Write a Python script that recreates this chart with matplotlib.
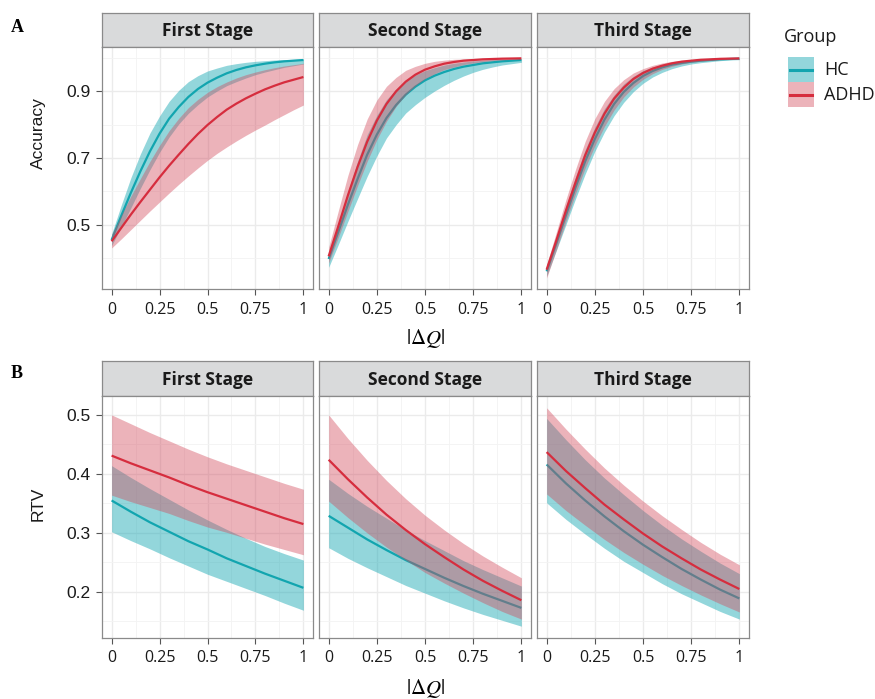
import matplotlib
matplotlib.use('Agg')
import matplotlib.pyplot as plt
from matplotlib.patches import Rectangle
from matplotlib.lines import Line2D

# ---------------- data ----------------
dq_a = [0.0, 0.05, 0.1, 0.15, 0.2, 0.25, 0.3, 0.35, 0.4, 0.45, 0.5,
        0.55, 0.6, 0.65, 0.7, 0.75, 0.8, 0.85, 0.9, 0.95, 1.0]
dq_b = [0.0, 0.1, 0.2, 0.3, 0.4, 0.5, 0.6, 0.7, 0.8, 0.9, 1.0]
stages = ["First Stage", "Second Stage", "Third Stage"]
groups = ["HC", "ADHD"]

# Accuracy (row A), at dq_a
acc1_hc = [0.454, 0.526, 0.595, 0.660, 0.720, 0.773, 0.818, 0.853, 0.883, 0.907, 0.926,
           0.941, 0.954, 0.964, 0.972, 0.978, 0.983, 0.987, 0.990, 0.992, 0.994]
acc1_hc_hi = [0.472, 0.558, 0.640, 0.712, 0.775, 0.826, 0.870, 0.903, 0.929, 0.947, 0.961,
              0.970, 0.978, 0.983, 0.987, 0.990, 0.992, 0.994, 0.995, 0.996, 0.997]
acc1_hc_lo = [0.437, 0.493, 0.550, 0.609, 0.665, 0.717, 0.763, 0.802, 0.834, 0.860, 0.883,
              0.901, 0.917, 0.929, 0.940, 0.950, 0.958, 0.965, 0.972, 0.977, 0.982]
acc1_ad = [0.450, 0.490, 0.530, 0.568, 0.605, 0.642, 0.677, 0.710, 0.742, 0.772, 0.799,
           0.823, 0.845, 0.863, 0.879, 0.893, 0.906, 0.917, 0.927, 0.935, 0.943]
acc1_ad_hi = [0.470, 0.528, 0.585, 0.638, 0.690, 0.738, 0.782, 0.819, 0.851, 0.876, 0.897,
              0.914, 0.928, 0.940, 0.950, 0.958, 0.965, 0.971, 0.976, 0.980, 0.984]
acc1_ad_lo = [0.430, 0.457, 0.485, 0.513, 0.541, 0.568, 0.595, 0.621, 0.646, 0.670, 0.693,
              0.714, 0.733, 0.751, 0.768, 0.784, 0.799, 0.815, 0.830, 0.845, 0.859]

acc2_hc = [0.397, 0.478, 0.560, 0.637, 0.710, 0.770, 0.820, 0.859, 0.890, 0.914, 0.933,
           0.947, 0.958, 0.967, 0.974, 0.979, 0.984, 0.987, 0.990, 0.992, 0.994]
acc2_hc_hi = [0.415, 0.505, 0.600, 0.690, 0.770, 0.828, 0.875, 0.907, 0.932, 0.949, 0.962,
              0.971, 0.979, 0.984, 0.988, 0.991, 0.993, 0.995, 0.996, 0.9965, 0.997]
acc2_hc_lo = [0.372, 0.440, 0.510, 0.578, 0.645, 0.706, 0.760, 0.800, 0.835, 0.860, 0.882,
              0.901, 0.918, 0.933, 0.946, 0.957, 0.966, 0.973, 0.979, 0.983, 0.987]
acc2_ad = [0.405, 0.495, 0.588, 0.673, 0.749, 0.812, 0.862, 0.900, 0.929, 0.950, 0.965,
           0.975, 0.983, 0.988, 0.992, 0.994, 0.996, 0.997, 0.998, 0.9985, 0.999]
acc2_ad_hi = [0.432, 0.541, 0.648, 0.740, 0.817, 0.874, 0.915, 0.942, 0.963, 0.975, 0.984,
              0.990, 0.9935, 0.996, 0.997, 0.998, 0.9988, 0.9992, 0.9995, 0.9997, 0.9998]
acc2_ad_lo = [0.385, 0.461, 0.540, 0.617, 0.690, 0.755, 0.810, 0.855, 0.890, 0.917, 0.938,
              0.953, 0.965, 0.973, 0.980, 0.985, 0.989, 0.992, 0.994, 0.996, 0.997]

acc3_hc = [0.360, 0.443, 0.528, 0.612, 0.690, 0.757, 0.815, 0.862, 0.898, 0.925, 0.946,
           0.961, 0.972, 0.980, 0.985, 0.989, 0.992, 0.994, 0.996, 0.997, 0.998]
acc3_hc_hi = [0.375, 0.463, 0.555, 0.643, 0.725, 0.792, 0.848, 0.889, 0.922, 0.945, 0.962,
              0.973, 0.981, 0.987, 0.991, 0.993, 0.995, 0.996, 0.997, 0.9975, 0.998]
acc3_hc_lo = [0.345, 0.422, 0.500, 0.578, 0.652, 0.720, 0.778, 0.827, 0.867, 0.899, 0.924,
              0.943, 0.957, 0.968, 0.976, 0.982, 0.986, 0.989, 0.992, 0.994, 0.995]
acc3_ad = [0.365, 0.452, 0.542, 0.627, 0.708, 0.776, 0.833, 0.878, 0.911, 0.937, 0.955,
           0.968, 0.977, 0.984, 0.989, 0.992, 0.9947, 0.996, 0.9975, 0.9982, 0.9988]
acc3_ad_hi = [0.380, 0.477, 0.575, 0.666, 0.750, 0.818, 0.870, 0.908, 0.935, 0.955, 0.968,
              0.978, 0.985, 0.990, 0.993, 0.995, 0.997, 0.9975, 0.998, 0.9985, 0.999]
acc3_ad_lo = [0.340, 0.424, 0.510, 0.593, 0.670, 0.737, 0.795, 0.844, 0.883, 0.913, 0.936,
              0.953, 0.966, 0.975, 0.982, 0.987, 0.990, 0.993, 0.995, 0.996, 0.997]

# RTV (row B), at dq_b
rtv1_hc = [0.355, 0.336, 0.318, 0.302, 0.286, 0.272, 0.257, 0.244, 0.231, 0.219, 0.207]
rtv1_hc_hi = [0.414, 0.394, 0.375, 0.357, 0.339, 0.322, 0.306, 0.291, 0.277, 0.265, 0.254]
rtv1_hc_lo = [0.302, 0.287, 0.273, 0.258, 0.244, 0.230, 0.218, 0.206, 0.194, 0.181, 0.169]
rtv1_ad = [0.431, 0.418, 0.406, 0.394, 0.381, 0.369, 0.358, 0.347, 0.336, 0.325, 0.315]
rtv1_ad_hi = [0.500, 0.485, 0.470, 0.456, 0.442, 0.429, 0.417, 0.406, 0.395, 0.384, 0.374]
rtv1_ad_lo = [0.364, 0.353, 0.343, 0.333, 0.321, 0.310, 0.301, 0.291, 0.281, 0.272, 0.263]

rtv2_hc = [0.329, 0.309, 0.289, 0.271, 0.254, 0.239, 0.224, 0.210, 0.197, 0.185, 0.173]
rtv2_hc_hi = [0.391, 0.367, 0.345, 0.325, 0.305, 0.287, 0.270, 0.253, 0.238, 0.224, 0.210]
rtv2_hc_lo = [0.275, 0.257, 0.241, 0.226, 0.211, 0.198, 0.185, 0.173, 0.162, 0.152, 0.142]
rtv2_ad = [0.424, 0.391, 0.360, 0.331, 0.305, 0.281, 0.259, 0.238, 0.219, 0.202, 0.186]
rtv2_ad_hi = [0.500, 0.460, 0.423, 0.389, 0.358, 0.330, 0.305, 0.282, 0.261, 0.242, 0.224]
rtv2_ad_lo = [0.354, 0.326, 0.300, 0.276, 0.254, 0.233, 0.215, 0.198, 0.182, 0.167, 0.154]

rtv3_hc = [0.416, 0.384, 0.355, 0.328, 0.303, 0.280, 0.259, 0.239, 0.221, 0.204, 0.189]
rtv3_hc_hi = [0.494, 0.458, 0.424, 0.393, 0.365, 0.338, 0.313, 0.290, 0.269, 0.249, 0.231]
rtv3_hc_lo = [0.351, 0.323, 0.298, 0.274, 0.252, 0.233, 0.214, 0.197, 0.182, 0.167, 0.154]
rtv3_ad = [0.437, 0.405, 0.376, 0.348, 0.323, 0.299, 0.277, 0.257, 0.238, 0.221, 0.205]
rtv3_ad_hi = [0.512, 0.476, 0.442, 0.410, 0.381, 0.354, 0.329, 0.306, 0.284, 0.264, 0.246]
rtv3_ad_lo = [0.366, 0.338, 0.313, 0.289, 0.267, 0.247, 0.228, 0.211, 0.195, 0.180, 0.166]

x_ticks = [0, 0.25, 0.5, 0.75, 1]
x_ticklabels = ["0", "0.25", "0.5", "0.75", "1"]
acc_ticks = [0.5, 0.7, 0.9]
rtv_ticks = [0.2, 0.3, 0.4, 0.5]

# ---------------- style ----------------
plt.rcParams['font.family'] = ['Open Sans', 'DejaVu Sans']
plt.rcParams['mathtext.fontset'] = 'stix'
W, H = 875, 699
fig = plt.figure(figsize=(W / 100, H / 100), dpi=100)

def rect(x0, y0, x1, y1):
    return [x0 / W, 1 - y1 / H, (x1 - x0) / W, (y1 - y0) / H]

def fx(x):
    return x / W

def fy(y):
    return 1 - y / H

C_HC = '#12A5AF'
C_AD = '#D62D3E'
F_HC = '#1DAAB5'
F_AD = '#D34A5C'
EDGE = '#8A8A8A'

panel_x = [(102, 313), (319, 531), (537, 749)]
rows = [
    dict(strip=(13, 47), panel=(47, 289), ylim=(0.307, 1.033), ticks=acc_ticks, x=dq_a,
         minor=[0.4, 0.6, 0.8, 1.0], tick_labels=["0.5", "0.7", "0.9"],
         data=[(acc1_hc, acc1_hc_lo, acc1_hc_hi, acc1_ad, acc1_ad_lo, acc1_ad_hi),
               (acc2_hc, acc2_hc_lo, acc2_hc_hi, acc2_ad, acc2_ad_lo, acc2_ad_hi),
               (acc3_hc, acc3_hc_lo, acc3_hc_hi, acc3_ad, acc3_ad_lo, acc3_ad_hi)]),
    dict(strip=(361, 396), panel=(396, 638), ylim=(0.122, 0.532), ticks=rtv_ticks, x=dq_b,
         minor=[0.15, 0.25, 0.35, 0.45], tick_labels=["0.2", "0.3", "0.4", "0.5"],
         data=[(rtv1_hc, rtv1_hc_lo, rtv1_hc_hi, rtv1_ad, rtv1_ad_lo, rtv1_ad_hi),
               (rtv2_hc, rtv2_hc_lo, rtv2_hc_hi, rtv2_ad, rtv2_ad_lo, rtv2_ad_hi),
               (rtv3_hc, rtv3_hc_lo, rtv3_hc_hi, rtv3_ad, rtv3_ad_lo, rtv3_ad_hi)]),
]

for r in rows:
    xs = r['x']
    for j, (x0, x1) in enumerate(panel_x):
        # strip
        sax = fig.add_axes(rect(x0, r['strip'][0], x1, r['strip'][1]))
        sax.set_facecolor('#D9DADB')
        sax.set_xticks([]); sax.set_yticks([])
        for s in sax.spines.values():
            s.set_color(EDGE); s.set_linewidth(0.9)
        sax.text(0.5, 0.47, stages[j], ha='center', va='center', fontsize=12.5,
                 fontweight='bold', color='#1A1A1A', transform=sax.transAxes)
        # panel
        ax = fig.add_axes(rect(x0, r['panel'][0], x1, r['panel'][1]))
        m_hc, lo_hc, hi_hc, m_ad, lo_ad, hi_ad = r['data'][j]
        ax.fill_between(xs, lo_hc, hi_hc, color=F_HC, alpha=0.48, lw=0, zorder=2)
        ax.plot(xs, m_hc, color=C_HC, lw=1.6, zorder=3, solid_capstyle='butt')
        ax.fill_between(xs, lo_ad, hi_ad, color=F_AD, alpha=0.42, lw=0, zorder=4)
        ax.plot(xs, m_ad, color=C_AD, lw=1.6, zorder=5, solid_capstyle='butt')
        ax.set_xlim(-0.05, 1.05)
        ax.set_ylim(*r['ylim'])
        ax.set_xticks(x_ticks)
        ax.set_xticklabels(x_ticklabels)
        ax.set_xticks([0.125, 0.375, 0.625, 0.875], minor=True)
        ax.set_yticks(r['ticks'])
        ax.set_yticks(r['minor'], minor=True)
        ax.grid(which='major', color='#EBEBEB', lw=1.0, zorder=0)
        ax.grid(which='minor', color='#F3F3F3', lw=0.6, zorder=0)
        ax.set_axisbelow(True)
        for s in ax.spines.values():
            s.set_color(EDGE); s.set_linewidth(0.9)
        ax.tick_params(axis='x', which='major', length=4, width=0.8, color='#555555',
                       labelsize=11.5, labelcolor='#1A1A1A', pad=5)
        ax.tick_params(which='minor', length=0)
        if j == 0:
            ax.set_yticklabels(r['tick_labels'], family='Liberation Sans')
            ax.tick_params(axis='y', which='major', length=4, width=0.8, color='#555555',
                           labelsize=12.5, labelcolor='#1A1A1A', pad=4)
        else:
            ax.tick_params(axis='y', which='major', length=0, labelleft=False)

# axis labels
fig.text(fx(426), fy(338), r'$|\mathit{\Delta Q}|$', ha='center', va='center', fontsize=15)
fig.text(fx(426), fy(688), r'$|\mathit{\Delta Q}|$', ha='center', va='center', fontsize=15)
fig.text(fx(38), fy(133), 'Accuracy', rotation=90, ha='center', va='center',
         fontsize=12.5, family='Liberation Sans', color='#1A1A1A')
fig.text(fx(38), fy(504), 'RTV', rotation=90, ha='center', va='center',
         fontsize=12.5, family='Liberation Sans', color='#1A1A1A')

# panel letters
fig.text(fx(11), fy(28), 'A', ha='left', va='center', fontsize=13,
         fontweight='bold', family='Liberation Serif')
fig.text(fx(11), fy(373), 'B', ha='left', va='center', fontsize=13,
         fontweight='bold', family='Liberation Serif')

# legend
fig.text(fx(784), fy(37), 'Group', ha='left', va='center', fontsize=13, color='#1A1A1A')
for k, (lab, fc, lc) in enumerate(zip(groups, [F_HC, F_AD], [C_HC, C_AD])):
    y0 = 57 + k * 25
    fig.add_artist(Rectangle((fx(788), fy(y0 + 25)), (814 - 788) / W, 25 / H,
                             transform=fig.transFigure, facecolor=fc,
                             alpha=0.48 if k == 0 else 0.42, lw=0))
    fig.add_artist(Line2D([fx(790), fx(812)], [fy(y0 + 12.5)] * 2,
                          transform=fig.transFigure, color=lc, lw=2.2))
    fig.text(fx(824), fy(y0 + 13), lab, ha='left', va='center', fontsize=13,
             color='#1A1A1A')

fig.savefig('out.png', dpi=100)
